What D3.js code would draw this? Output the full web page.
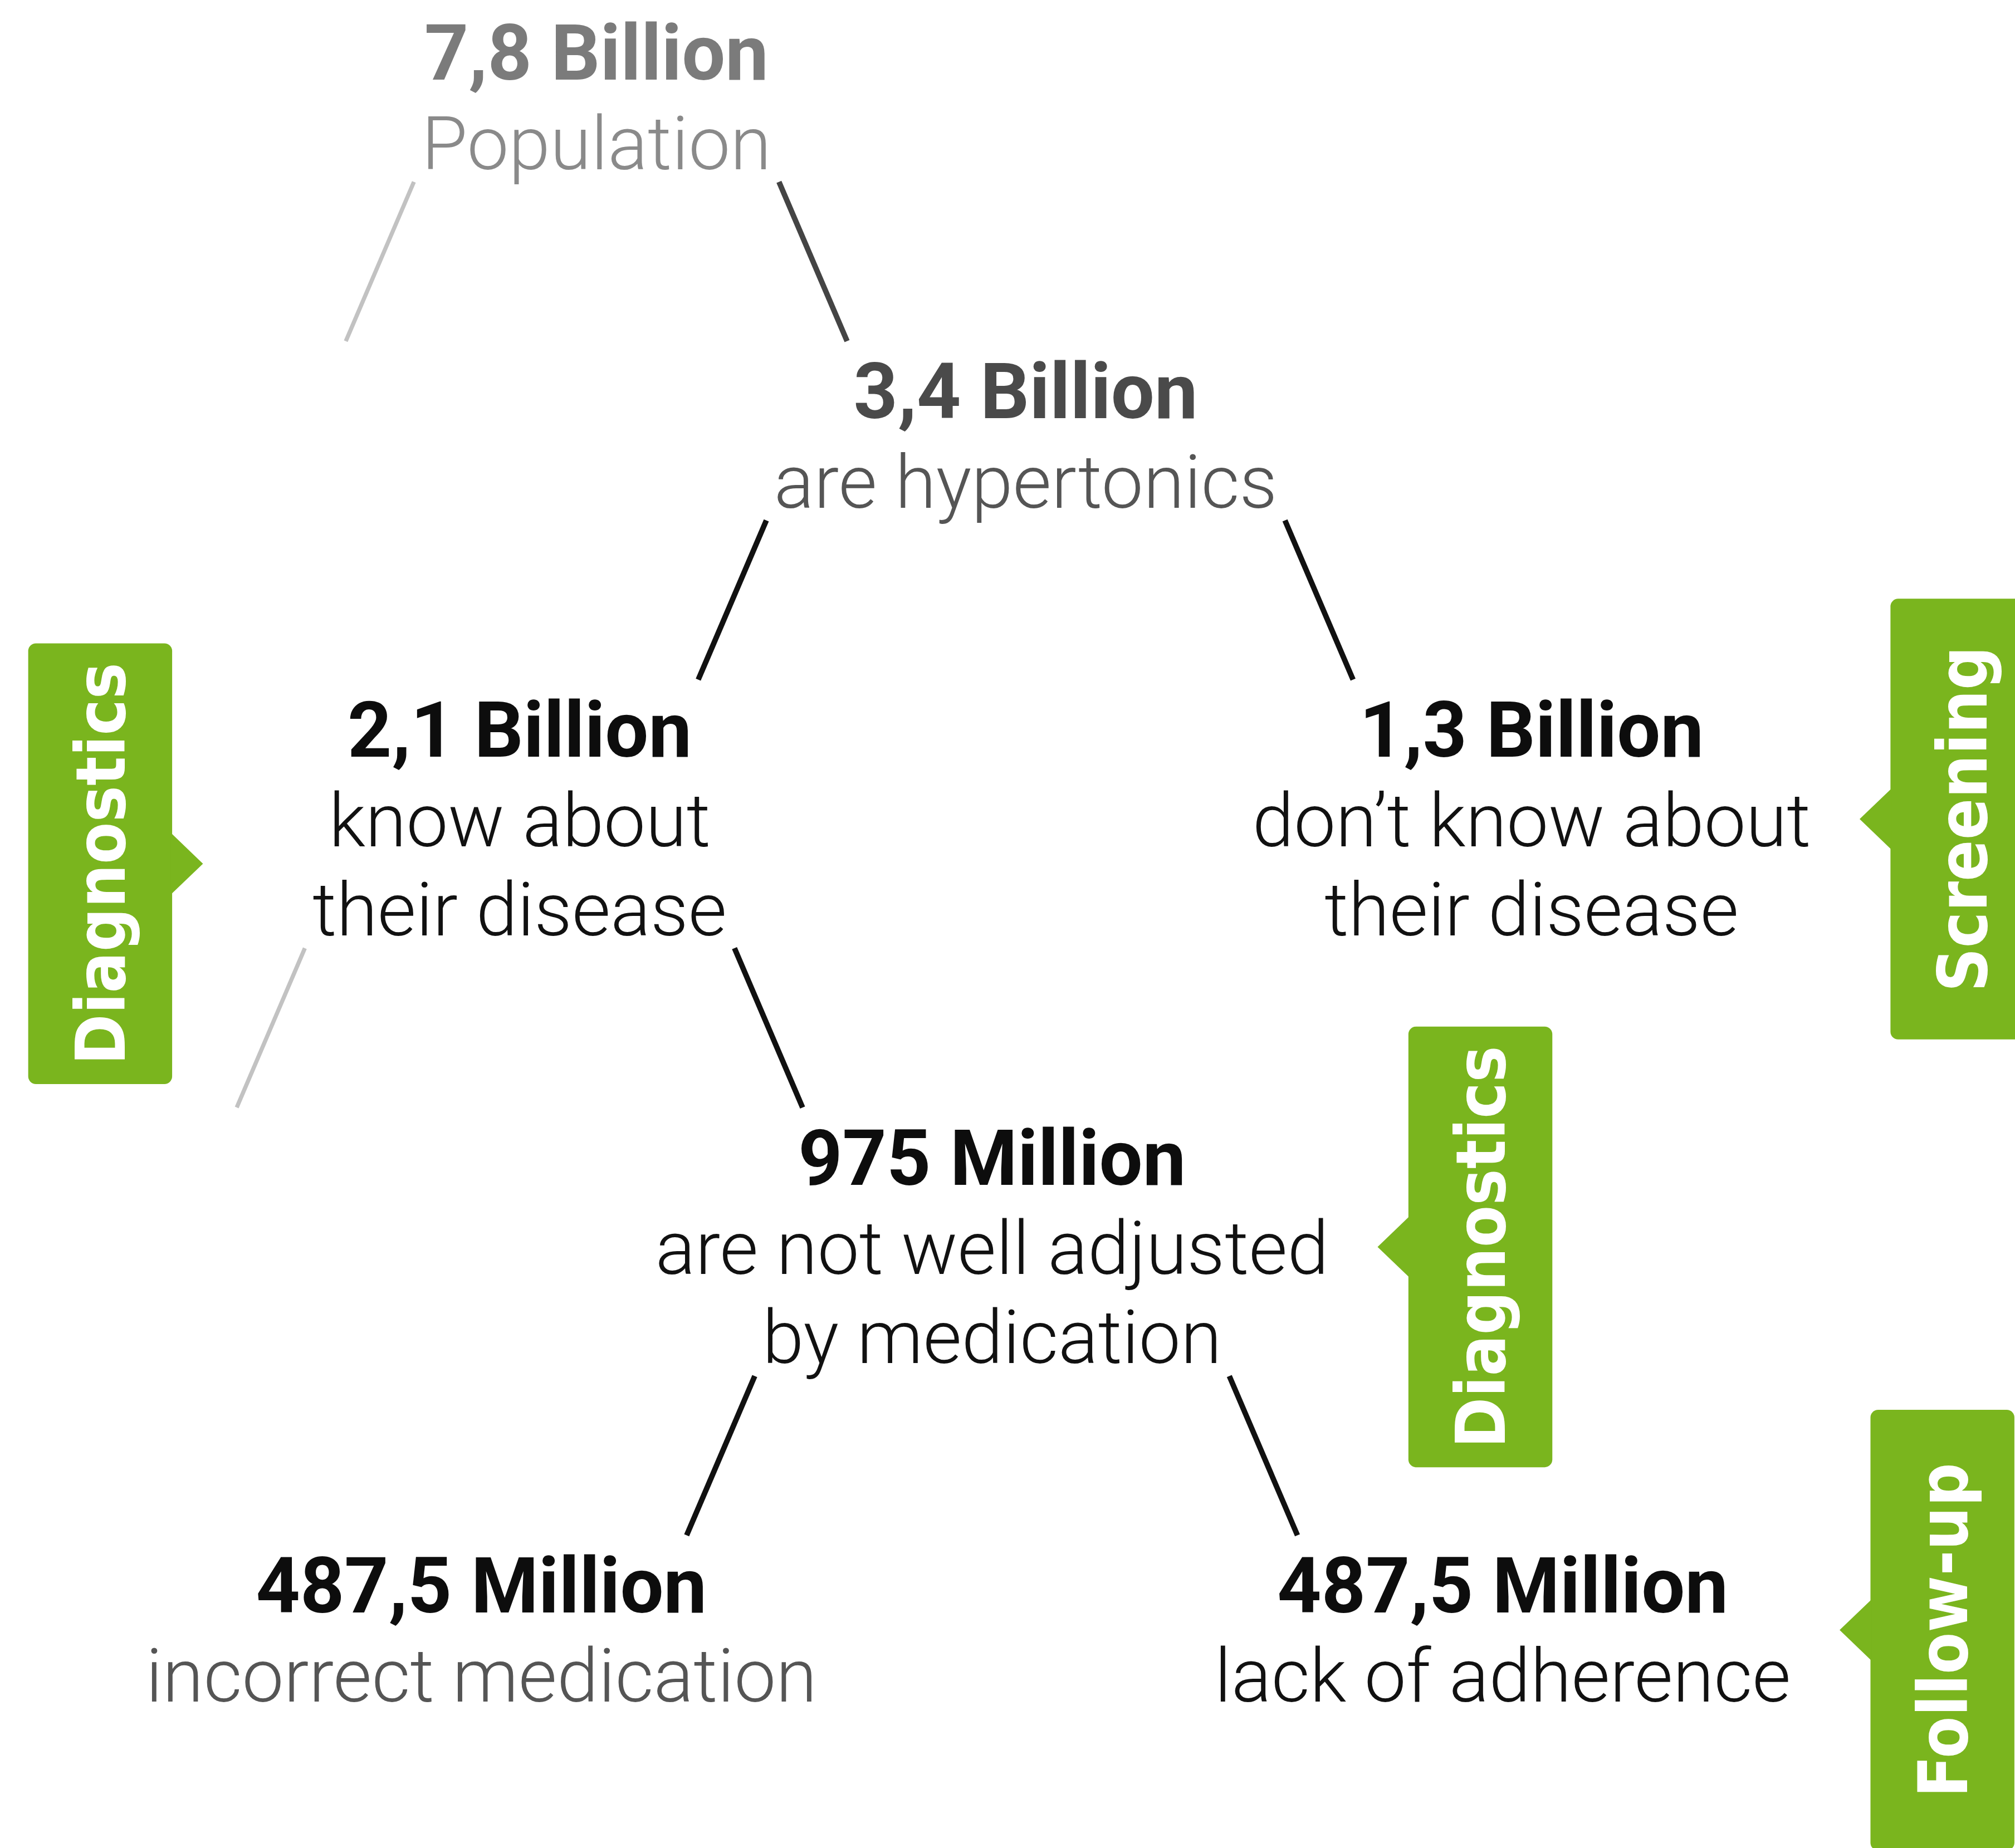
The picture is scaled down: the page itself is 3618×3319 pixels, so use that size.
<!DOCTYPE html>
<html>
<head>
<meta charset="utf-8">
<script src="https://cdn.jsdelivr.net/npm/d3@7"></script>
<style>
  body { margin: 0; background: #fff; }
</style>
</head>
<body>
<div id="chart"></div>
<script>
// numbers and captions of each step of the tree
const figures = ["7,8 Billion", "3,4 Billion", "2,1 Billion", "1,3 Billion", "975 Million", "487,5 Million", "487,5 Million"];
const captions = [
    ["Population"],
    ["are hypertonics"],
    ["know about", "their disease"],
    ["don’t know about", "their disease"],
    ["are not well adjusted", "by medication"],
    ["incorrect medication"],
    ["lack of adherence"]
];
// tree structure: parent of each step and the side it branches to
const parents = [null, 0, 1, 1, 2, 4, 4];
const branches = [1, 1, -1, 1, 1, -1, 1];
// branches that lead out of the picture
const ghostBranches = [[0, -1], [2, -1]];

// green stage tags
const stageLabels = ["Diagnostics", "Screening", "Diagnostics", "Follow-up"];
const stageNodes = [2, 3, 4, 6];
const stageSides = [-1, 1, 1, 1];

const W = 1568, H = 1438;
const svg = d3.select("#chart").append("svg")
    .attr("width", 3618)
    .attr("height", 3319)
    .attr("viewBox", `0 0 ${W} ${H}`);

// layout on a simple linear frame
const x = d3.scaleLinear([0, 1], [0, W]);
const y = d3.scaleLinear([0, 1], [0, H]);

const boldColor = d3.scaleOrdinal([0, 1], ["#7b7b7b", "#4a4a4a"]).unknown("#0d0d0d");
const textColor = d3.scaleOrdinal([0, 1, 5], ["#8a8a8a", "#555555", "#555555"]).unknown("#111111");
const green = "#7ab51e";

const lineStep = 69.5;
const slope = { dx: 53, dy: 124 };

const nodeLayer = svg.append("g");
const nodes = [];
const links = [];

// a connector starts just beside the last caption line of its parent
function branchLine(p, side) {
    const x1 = side < 0 ? p.cx - p.lastHalf - 6 : p.cx + p.lastHalf + 6;
    const y1 = p.last + 10;
    return { x1, y1, x2: x1 + side * slope.dx, y2: y1 + slope.dy };
}

figures.forEach((fig, i) => {
    const g = nodeLayer.append("g");
    const bold = g.append("text")
        .attr("text-anchor", "middle")
        .attr("font-family", "Roboto, 'Noto Sans', sans-serif")
        .attr("font-weight", 700)
        .attr("font-size", 60)
        .attr("fill", boldColor(i))
        .text(fig);
    const subs = g.selectAll("text.sub")
        .data(captions[i])
        .join("text")
        .attr("class", "sub")
        .attr("text-anchor", "middle")
        .attr("y", (d, k) => (k + 1) * lineStep)
        .attr("font-family", "Roboto, 'Noto Sans', sans-serif")
        .attr("font-weight", 300)
        .attr("font-size", 58)
        .attr("fill", textColor(i))
        .text(d => d);

    const boldW = bold.node().getComputedTextLength();
    const subW = subs.nodes().map(n => n.getComputedTextLength());
    const half = d3.max([boldW].concat(subW)) / 2;

    let cx, by;
    if (parents[i] === null) {
        cx = x(0.296);
        by = y(0.043);
    } else {
        const side = branches[i];
        const l = branchLine(nodes[parents[i]], side);
        l.tone = parents[i] === 0 ? "#444" : "#111";
        links.push(l);
        cx = l.x2 + side * (boldW / 4 + 72);
        by = l.y2 + 60;
    }
    g.attr("transform", `translate(${cx},${by})`);
    nodes.push({
        cx, by, half,
        lastHalf: subW[subW.length - 1] / 2,
        left: cx - half,
        right: cx + half,
        top: by - 42,
        capTop: by + lineStep - 42,
        last: by + lineStep * captions[i].length
    });
});

ghostBranches.forEach(([n, side]) => {
    const l = branchLine(nodes[n], side);
    l.tone = "#c2c2c2";
    l.ghost = true;
    links.push(l);
});

svg.insert("g", ":first-child")
    .selectAll("line")
    .data(links)
    .join("line")
    .attr("x1", d => d.x1).attr("y1", d => d.y1)
    .attr("x2", d => d.x2).attr("y2", d => d.y2)
    .attr("stroke", d => d.tone)
    .attr("stroke-width", d => d.ghost ? 3.2 : 4.2);

// stage tags: left ones sit on the margin, right ones next to the text
const tagW = 112, tagH = 343, tip = 24, tipHalf = 24;
const tags = stageLabels.map((label, k) => {
    const n = nodes[stageNodes[k]];
    const side = stageSides[k];
    let bx, tipX, cy;
    if (side < 0) {
        bx = x(0.014);
        tipX = bx + tagW + tip;
        cy = (n.capTop + n.last) / 2;
    } else {
        tipX = n.right + 38;
        bx = tipX + tip;
        cy = (n.top + n.last) / 2;
    }
    return { label, side, cy, bx, tipX };
});

const tag = svg.append("g")
    .selectAll("g")
    .data(tags)
    .join("g");

tag.append("rect")
    .attr("x", d => d.bx)
    .attr("y", d => d.cy - tagH / 2)
    .attr("width", tagW)
    .attr("height", tagH)
    .attr("rx", 6)
    .attr("fill", green);

tag.append("path")
    .attr("d", d => {
        const base = d.side < 0 ? d.bx + tagW - 1 : d.bx + 1;
        return `M${base},${d.cy - tipHalf}L${d.tipX},${d.cy}L${base},${d.cy + tipHalf}Z`;
    })
    .attr("fill", green);

tag.append("text")
    .attr("transform", d => `translate(${d.bx + tagW / 2 + 19},${d.cy}) rotate(-90)`)
    .attr("text-anchor", "middle")
    .attr("font-family", "'DejaVu Sans Condensed', 'DejaVu Sans', sans-serif")
    .attr("font-stretch", "condensed")
    .attr("font-weight", 700)
    .attr("font-size", 53)
    .attr("fill", "#fff")
    .text(d => d.label);
</script>
</body>
</html>
